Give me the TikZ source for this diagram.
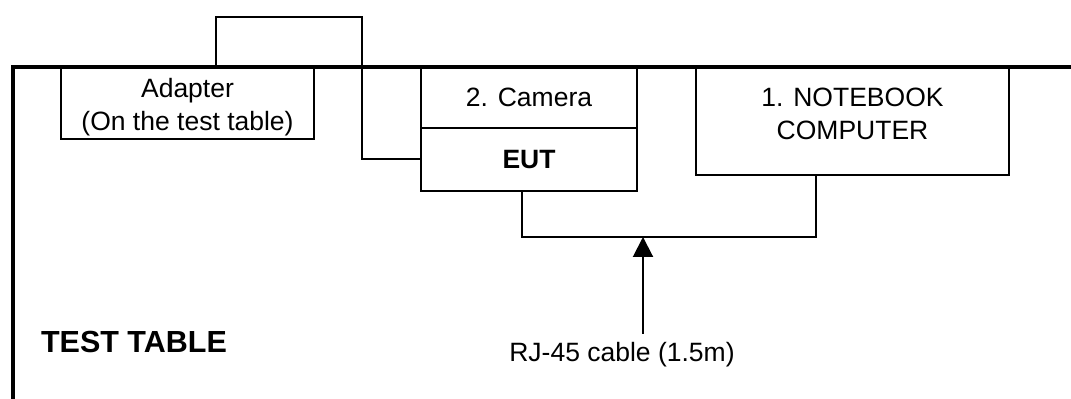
\documentclass[tikz,border=0pt]{standalone}
\usepackage{fontspec}
\setmainfont{Liberation Sans}
\usetikzlibrary{arrows.meta,positioning}

\tikzset{
  box/.style={draw,line width=1pt,outer sep=0pt,inner sep=0pt,align=center},
  wire/.style={line width=1pt},
  tableedge/.style={line width=2pt},
  cablearrow/.style={line width=1pt,-{Triangle[length=10pt,width=10pt]}}
}
\newcommand{\lbl}{\fontsize{13.25}{16.5}\selectfont}

\begin{document}
\begin{tikzpicture}[x=0.5pt,y=-0.5pt,font=\lbl]
\useasboundingbox (0,0) rectangle (1071,399);

\node[box,minimum width=126.5pt,minimum height=36pt] (adapter) at (187.5,103) {};
\node[align=center] (adtext) at ([yshift=-2pt]adapter.center) {Adapter\\(On the test table)};
\node[box,minimum width=108pt,minimum height=30.5pt] (camera) at (529,97.5) {2. Camera};
\node[box,minimum width=108pt,minimum height=31.5pt,below=0pt of camera,font=\lbl\bfseries] (eut) {EUT};
\node[box,minimum width=156.5pt,minimum height=54pt] (notebook) at (852.5,121) {};
\node[align=center] (nbtext) at ([yshift=3.5pt]notebook.center) {1. NOTEBOOK\\COMPUTER};

\coordinate (tip) at (643,237);
\coordinate (tail) at (643,334);

\draw[wire] ([xshift=14.25pt]adapter.north) |- (362,17) |- (eut.west);
\draw[wire] ([xshift=-3.5pt]eut.south) |- (tip) -| ([xshift=-18.25pt]notebook.south);
\draw[cablearrow] (tail) -- (tip);

\draw[tableedge] (13,399) |- (1071,67);

\node[anchor=base west,font=\fontsize{15.25}{18}\selectfont\bfseries] (title) at (34,353) {TEST TABLE};
\node[anchor=base] (cable) at (622,362) {RJ-45 cable (1.5m)};
\end{tikzpicture}
\end{document}
